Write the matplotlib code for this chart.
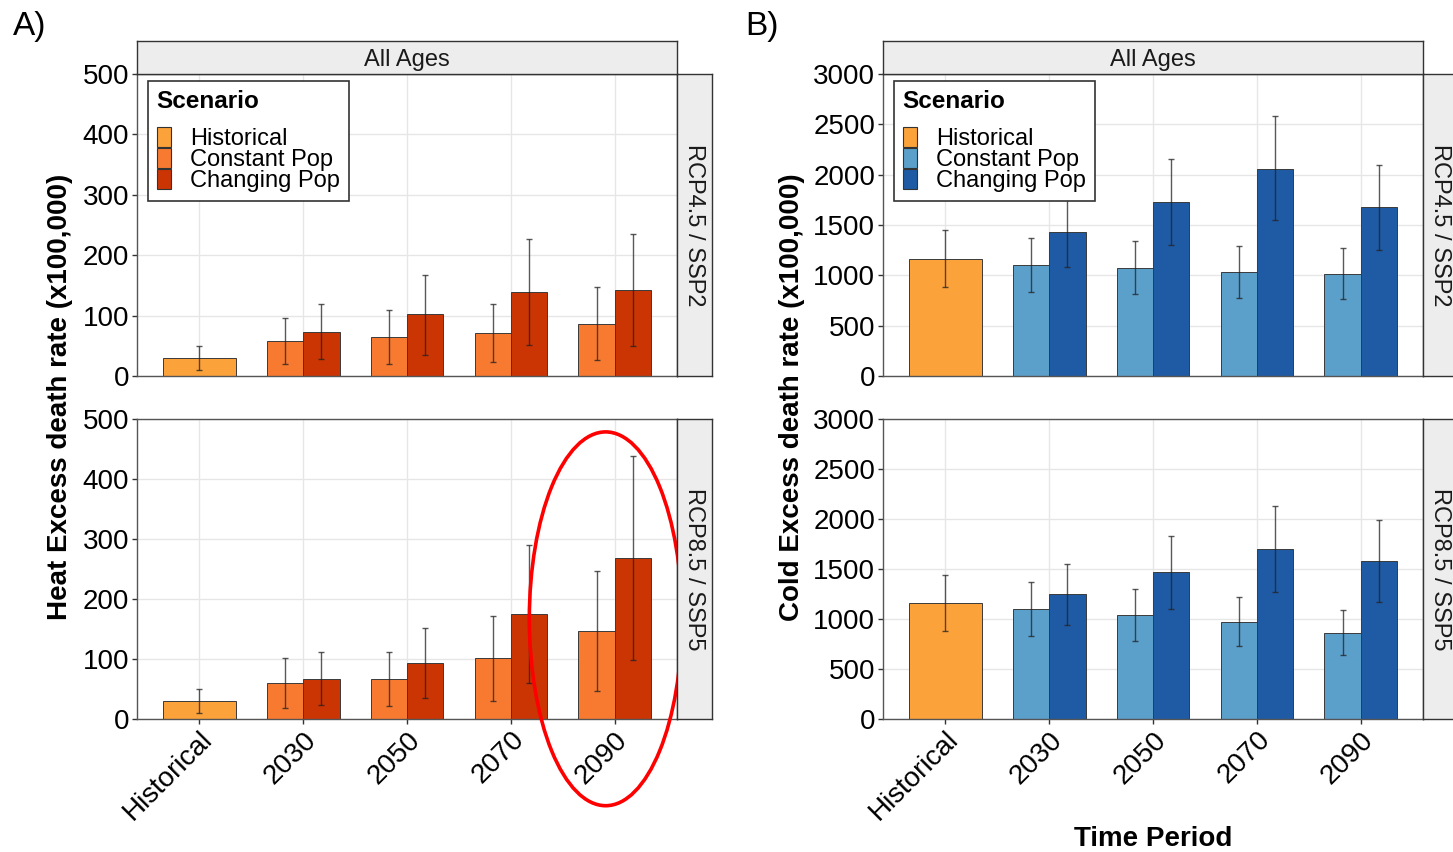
"""Heat / cold excess death rates by time period and scenario (two faceted panels)."""
import numpy as np
import matplotlib
matplotlib.use('Agg')
import matplotlib.pyplot as plt
from matplotlib.patches import Patch, Ellipse

plt.rcParams['font.family'] = ['Liberation Sans', 'DejaVu Sans']

# --- data ---
periods = ['Historical', '2030', '2050', '2070', '2090']
scenarios = ['Historical', 'Constant Pop', 'Changing Pop']
facets = ['RCP4.5 / SSP2', 'RCP8.5 / SSP5']

# Heat (panel A)
heat_hist = [30, 30]
heat_hist_lo = [10, 10]
heat_hist_hi = [50, 50]
heat_rcp45_const = [58, 65, 71, 86]
heat_rcp45_const_lo = [20, 20, 23, 27]
heat_rcp45_const_hi = [96, 109, 120, 147]
heat_rcp45_chang = [73, 102, 139, 142]
heat_rcp45_chang_lo = [28, 35, 51, 50]
heat_rcp45_chang_hi = [120, 168, 227, 235]
heat_rcp85_const = [60, 67, 101, 147]
heat_rcp85_const_lo = [19, 22, 30, 47]
heat_rcp85_const_hi = [101, 112, 171, 247]
heat_rcp85_chang = [67, 93, 175, 269]
heat_rcp85_chang_lo = [24, 35, 60, 99]
heat_rcp85_chang_hi = [111, 152, 290, 438]

# Cold (panel B)
cold_hist = [1166, 1162]
cold_hist_lo = [887, 879]
cold_hist_hi = [1449, 1441]
cold_rcp45_const = [1106, 1076, 1037, 1013]
cold_rcp45_const_lo = [831, 811, 777, 761]
cold_rcp45_const_hi = [1375, 1342, 1296, 1269]
cold_rcp45_chang = [1432, 1728, 2060, 1678]
cold_rcp45_chang_lo = [1083, 1299, 1548, 1256]
cold_rcp45_chang_hi = [1780, 2156, 2581, 2100]
cold_rcp85_const = [1102, 1042, 972, 865]
cold_rcp85_const_lo = [829, 779, 729, 639]
cold_rcp85_const_hi = [1371, 1298, 1218, 1089]
cold_rcp85_chang = [1248, 1468, 1701, 1585]
cold_rcp85_chang_lo = [942, 1102, 1275, 1175]
cold_rcp85_chang_hi = [1555, 1834, 2130, 1991]

hist_col = '#FCA23B'
heat_cols = [hist_col, '#F87A30', '#CB3403']
cold_cols = [hist_col, '#5B9FCB', '#1F5BA5']

W, H = 1453, 852
fig = plt.figure(figsize=(W / 100, H / 100), dpi=100)


def rect(x0, y0, x1, y1):
    return [x0 / W, 1 - y1 / H, (x1 - x0) / W, (y1 - y0) / H]


def strip(r, label, rot=0):
    s = fig.add_axes(r)
    s.set_facecolor('#EDEDED')
    s.set_xticks([]); s.set_yticks([])
    for sp in s.spines.values():
        sp.set_color('#333333'); sp.set_linewidth(1)
    va = 'center' if rot else 'center_baseline'
    s.text(0.5, 0.5, label, transform=s.transAxes, ha='center', va=va,
           rotation=rot, fontsize=17, color='#1A1A1A')


def panel(r, hist, hlo, hhi, const, clo, chi, chang, glo, ghi, cols, ymax, ystep, show_x):
    ax = fig.add_axes(r)
    x = np.arange(len(periods))
    bw = 0.35
    edge = dict(edgecolor='#3a3a3a', linewidth=0.7)
    ax.bar(x[0], hist, width=2 * bw, color=cols[0], **edge)
    ax.bar(x[1:] - bw / 2, const, width=bw, color=cols[1], **edge)
    ax.bar(x[1:] + bw / 2, chang, width=bw, color=cols[2], **edge)
    eb = dict(fmt='none', ecolor='#222222', elinewidth=1, capsize=2.2, capthick=1, alpha=0.75)
    ax.errorbar([x[0]], [hist], yerr=[[hist - hlo], [hhi - hist]], **eb)
    const, clo, chi = map(np.array, (const, clo, chi))
    chang, glo, ghi = map(np.array, (chang, glo, ghi))
    ax.errorbar(x[1:] - bw / 2, const, yerr=[const - clo, chi - const], **eb)
    ax.errorbar(x[1:] + bw / 2, chang, yerr=[chang - glo, ghi - chang], **eb)
    ax.set_xlim(-0.6, len(periods) - 0.4)
    ax.set_ylim(0, ymax)
    ax.set_yticks(np.arange(0, ymax + 1, ystep))
    ax.set_xticks(x)
    ax.set_axisbelow(True)
    ax.grid(color='#E6E6E6', linewidth=1)
    for sp in ax.spines.values():
        sp.set_color('#555555'); sp.set_linewidth(1)
    ax.tick_params(axis='y', length=3.5, width=1, color='#333333', labelsize=20, pad=2)
    if show_x:
        ax.set_xticklabels(periods, rotation=45, ha='right', rotation_mode='anchor')
        ax.tick_params(axis='x', length=3.5, width=1, color='#333333', labelsize=20, pad=2)
    else:
        ax.tick_params(axis='x', length=0, labelbottom=False)
    return ax


def add_legend(ax, cols):
    handles = [Patch(facecolor=c, edgecolor='#333333', linewidth=0.8) for c in cols]
    leg = ax.legend(handles, scenarios, title='Scenario', loc='upper left',
                    bbox_to_anchor=(0.02, 0.977), borderaxespad=0, fontsize=17,
                    title_fontproperties={'weight': 'bold', 'size': 17.5},
                    fancybox=False, edgecolor='#333333', framealpha=1,
                    handlelength=0.6, handleheight=0.95, handletextpad=0.8,
                    labelspacing=-0.1, borderpad=0.38, alignment='left')
    leg.get_frame().set_linewidth(1.2)
    leg._legend_box.sep = 10
    return leg


rows = [(74, 376), (419, 719)]
heat_data = [
    (heat_rcp45_const, heat_rcp45_const_lo, heat_rcp45_const_hi,
     heat_rcp45_chang, heat_rcp45_chang_lo, heat_rcp45_chang_hi),
    (heat_rcp85_const, heat_rcp85_const_lo, heat_rcp85_const_hi,
     heat_rcp85_chang, heat_rcp85_chang_lo, heat_rcp85_chang_hi),
]
cold_data = [
    (cold_rcp45_const, cold_rcp45_const_lo, cold_rcp45_const_hi,
     cold_rcp45_chang, cold_rcp45_chang_lo, cold_rcp45_chang_hi),
    (cold_rcp85_const, cold_rcp85_const_lo, cold_rcp85_const_hi,
     cold_rcp85_chang, cold_rcp85_chang_lo, cold_rcp85_chang_hi),
]

# --- panel A: heat ---
ax_a = []
for i, (y0, y1) in enumerate(rows):
    ax = panel(rect(137, y0, 677, y1), heat_hist[i], heat_hist_lo[i], heat_hist_hi[i],
               *heat_data[i], heat_cols, 500, 100, show_x=(i == 1))
    strip(rect(677, y0, 712, y1), facets[i], rot=-90)
    ax_a.append(ax)
strip(rect(137, 41, 677, 74), 'All Ages')
add_legend(ax_a[0], heat_cols)

# red highlight around 2090 in RCP8.5
ax_a[1].add_patch(Ellipse((3.913, 167), width=1.47, height=623, fill=False,
                          edgecolor='#FF0000', linewidth=2.6, clip_on=False, zorder=10))

# --- panel B: cold ---
ax_b = []
for i, (y0, y1) in enumerate(rows):
    ax = panel(rect(883, y0, 1423, y1), cold_hist[i], cold_hist_lo[i], cold_hist_hi[i],
               *cold_data[i], cold_cols, 3000, 500, show_x=(i == 1))
    strip(rect(1423, y0, 1458, y1), facets[i], rot=-90)
    ax_b.append(ax)
strip(rect(883, 41, 1423, 74), 'All Ages')
add_legend(ax_b[0], cold_cols)

# --- labels ---
fig.text(60 / W, 1 - 397 / H, 'Heat Excess death rate (x100,000)', rotation=90,
         ha='center', va='center', fontsize=20, fontweight='bold')
fig.text(792 / W, 1 - 397 / H, 'Cold Excess death rate (x100,000)', rotation=90,
         ha='center', va='center', fontsize=20, fontweight='bold')
fig.text(1153 / W, 1 - 839 / H, 'Time Period', ha='center', va='center',
         fontsize=20, fontweight='bold')
fig.text(13 / W, 1 - 27 / H, 'A)', ha='left', va='center', fontsize=24)
fig.text(745 / W, 1 - 27 / H, 'B)', ha='left', va='center', fontsize=24)

fig.savefig('out.png', dpi=100)
